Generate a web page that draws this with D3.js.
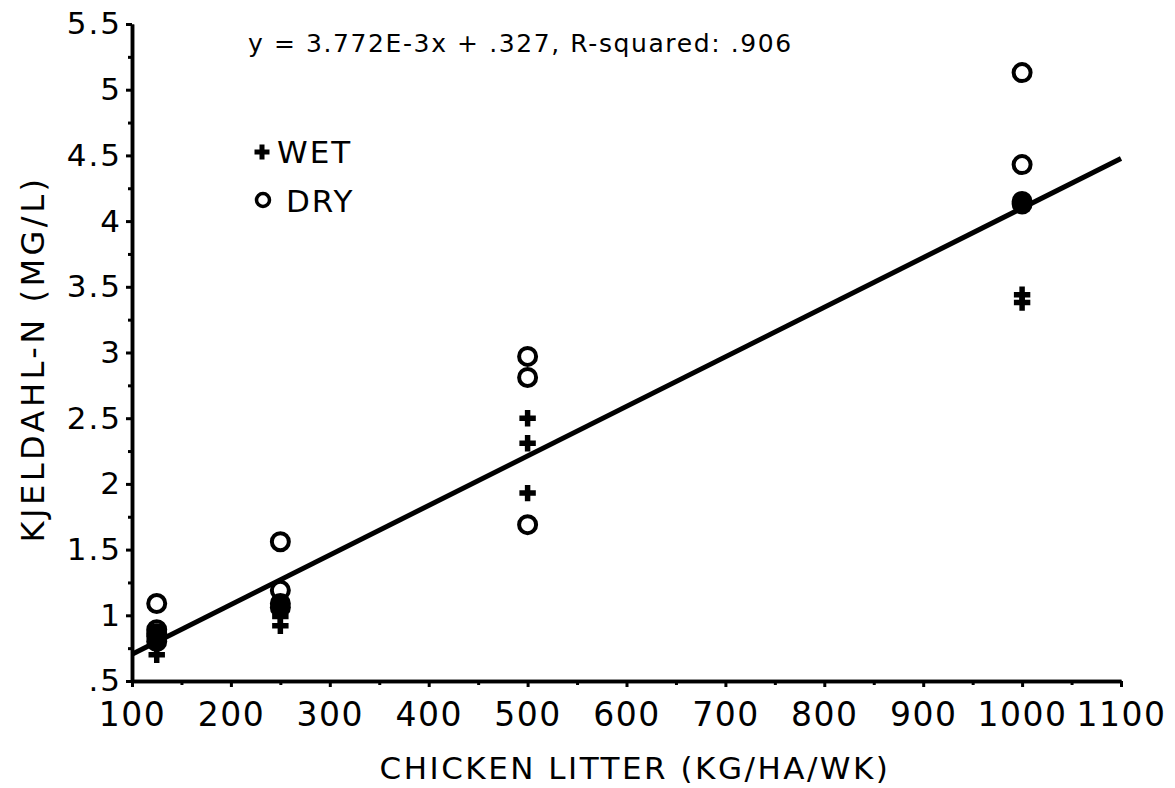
<!DOCTYPE html>
<html><head><meta charset="utf-8">
<script src="https://cdn.jsdelivr.net/npm/d3@7"></script>
<style>
body{margin:0;background:#fff;}
text{font-family:"DejaVu Sans",sans-serif;fill:#000;}
</style></head>
<body>
<svg id="c" width="1175" height="788"></svg>
<script>
// Data
const rates = [125, 250, 500, 1000];
const wetX = [125,125,125, 250,250,250, 500,500,500, 1000,1000,1000];
const wetY = [0.86,0.80,0.70, 1.06,0.99,0.92, 2.50,2.31,1.93, 4.13,3.44,3.38];
const dryX = [125,125,125, 250,250,250, 500,500,500, 1000,1000,1000];
const dryY = [1.09,0.89,0.84, 1.56,1.19,1.09, 2.97,2.81,1.69, 5.13,4.43,4.15];
const slope = 3.772e-3, intercept = 0.327;
const xTicks = [100,200,300,400,500,600,700,800,900,1000,1100];
const xTickLabels = ["100","200","300","400","500","600","700","800","900","1000","1100"];
const yTicks = [0.5,1,1.5,2,2.5,3,3.5,4,4.5,5,5.5];
const yTickLabels = [".5","1","1.5","2","2.5","3","3.5","4","4.5","5","5.5"];
const titleText = "y = 3.772E-3x + .327, R-squared: .906";
const xLabel = "CHICKEN LITTER (KG/HA/WK)";
const yLabel = "KJELDAHL-N (MG/L)";
const legendItems = ["WET","DRY"];

const svg = d3.select("#c");
const x = d3.scaleLinear().domain([100,1100]).range([132,1121]);
const y = d3.scaleLinear().domain([0.5,5.5]).range([681,24]);

// Axes
const xAxis = d3.axisBottom(x).tickValues(xTicks).tickFormat((d,i)=>xTickLabels[i]).tickSizeInner(6).tickSizeOuter(0).tickPadding(16);
const xMinor = d3.axisBottom(x).tickValues(d3.range(150,1100,100)).tickFormat("").tickSizeInner(4).tickSizeOuter(0);
const yAxis = d3.axisLeft(y).tickValues(yTicks).tickFormat((d,i)=>yTickLabels[i]).tickSizeInner(6).tickSizeOuter(0).tickPadding(4);
const yMinor = d3.axisLeft(y).tickValues(d3.range(0.75,5.5,0.5)).tickFormat("").tickSizeInner(4).tickSizeOuter(0);

function style(g, fs){
  g.select(".domain").attr("stroke","#000").attr("stroke-width",3.5);
  g.selectAll(".tick line").attr("stroke","#000").attr("stroke-width",3);
  g.selectAll(".tick text").attr("font-size",fs).attr("font-family","DejaVu Sans").attr("fill","#000");
}
const gxm = svg.append("g").attr("transform","translate(0,681)").call(xMinor); style(gxm,0);
const gx = svg.append("g").attr("transform","translate(0,681)").call(xAxis); style(gx,33);
gx.selectAll(".tick text").attr("letter-spacing",1.5);
const gym = svg.append("g").attr("transform","translate(132,0)").call(yMinor); style(gym,0);
const gy = svg.append("g").attr("transform","translate(132,0)").call(yAxis); style(gy,31);
gy.selectAll(".tick text").attr("letter-spacing",2).attr("dy","0.32em");

// Regression line
svg.append("line")
  .attr("x1",x(100)).attr("y1",y(slope*100+intercept))
  .attr("x2",x(1100)).attr("y2",y(slope*1100+intercept))
  .attr("stroke","#000").attr("stroke-width",5);

const cross = d3.symbol().type(d3.symbolCross).size(150);
const crossSmall = d3.symbol().type(d3.symbolCross).size(125);

// Coincident wet/dry points drawn filled
const wet = wetX.map((v,i)=>({x:v,y:wetY[i]}));
const dry = dryX.map((v,i)=>({x:v,y:dryY[i]}));
const overlap = wet.filter(w=>dry.some(d=>d.x===w.x && Math.abs(d.y-w.y)<0.05));
svg.selectAll("circle.ov").data(overlap).join("circle").attr("class","ov")
  .attr("cx",d=>x(d.x)).attr("cy",d=>y(d.y)).attr("r",10.5).attr("fill","#000");

svg.selectAll("circle.dry").data(dry).join("circle").attr("class","dry")
  .attr("cx",d=>x(d.x)).attr("cy",d=>y(d.y)).attr("r",8.5)
  .attr("fill","none").attr("stroke","#000").attr("stroke-width",4);

svg.selectAll("path.wet").data(wet).join("path").attr("class","wet")
  .attr("d",cross).attr("transform",d=>`translate(${x(d.x)},${y(d.y)})`).attr("fill","#000");

// Title
svg.append("text").attr("x",248).attr("y",52).attr("font-size",25).attr("letter-spacing",1.6).text(titleText);

// Legend
svg.append("path").attr("d",crossSmall).attr("transform","translate(262,152)").attr("fill","#000");
svg.append("text").attr("x",277).attr("y",163).attr("font-size",31).attr("letter-spacing",2).text(legendItems[0]);
svg.append("circle").attr("cx",263).attr("cy",200).attr("r",6.5).attr("fill","none").attr("stroke","#000").attr("stroke-width",3.5);
svg.append("text").attr("x",286).attr("y",212).attr("font-size",31).attr("letter-spacing",2).text(legendItems[1]);

// Axis labels
svg.append("text").attr("x",635).attr("y",779).attr("text-anchor","middle").attr("font-size",31).attr("letter-spacing",2.5).text(xLabel);
svg.append("text").attr("transform","translate(44,359) rotate(-90)").attr("text-anchor","middle").attr("font-size",32).attr("letter-spacing",3.5).text(yLabel);
</script>
</body></html>
